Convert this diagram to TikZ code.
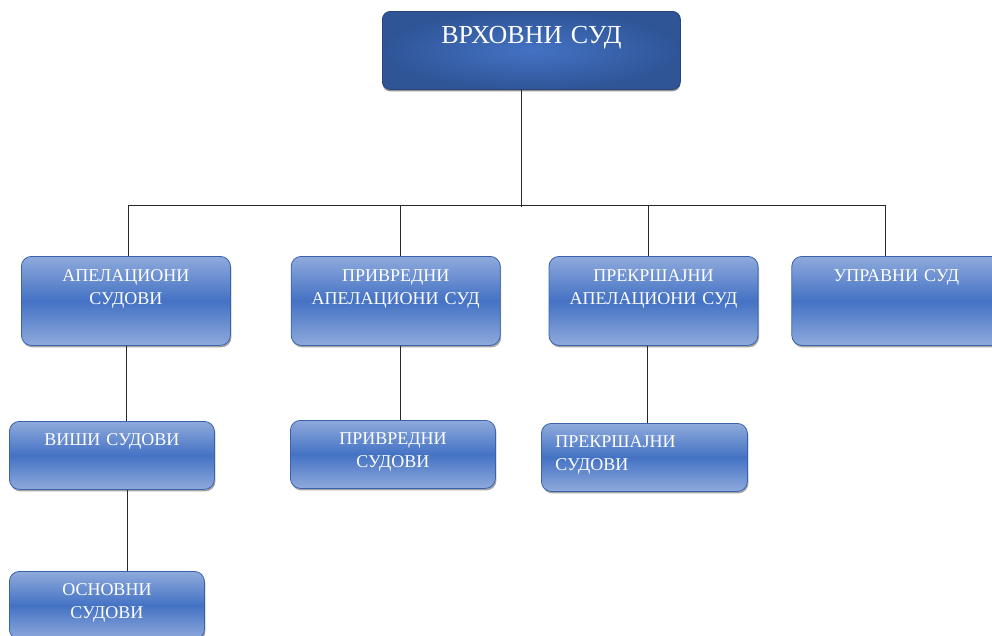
\documentclass[tikz,border=0pt]{standalone}
\usepackage{fontspec}
\setmainfont{Liberation Serif}
\usetikzlibrary{
    positioning,
    shadows,
    calc
}
\definecolor{darkblue}{RGB}{47,85,151}
\definecolor{midblue}{RGB}{68,114,196}
\definecolor{lightblue}{RGB}{143,170,220}
\definecolor{edgeblue}{RGB}{58,98,172}
\definecolor{linegray}{RGB}{40,40,40}
\tikzset{
    % Supreme court
    topcourt/.style={
        rectangle,
        draw=darkblue!80!black,
        line width=0.8pt,
        inner color=midblue,
        outer color=darkblue,
        rounded corners=8pt,
        text width=270pt,
        inner xsep=14pt,
        inner ysep=14pt,
        text height=18pt,
        text depth=32pt,
        align=center,
        text=white,
        font=\fontsize{26}{30}\selectfont,
        drop shadow={shadow xshift=0pt, shadow yshift=-2pt, fill=black!70, opacity=0.6}
    },
    % Courts
    court/.style={
        rectangle,
        draw=edgeblue,
        line width=0.8pt,
        top color=lightblue,
        bottom color=lightblue,
        middle color=midblue,
        rounded corners=10pt,
        inner xsep=6pt,
        inner ysep=12pt,
        text height=13pt,
        align=center,
        text=white,
        font=\fontsize{18}{23}\selectfont,
        drop shadow={shadow xshift=1pt, shadow yshift=-2pt, fill=black!70, opacity=0.5}
    },
    upper/.style={court, text width=197pt, text depth=52pt},
    lower/.style={court, text width=193pt, inner ysep=11pt, text depth=33pt},
    % Connectors
    link/.style={
        draw=linegray,
        line width=0.8pt
    }
}

\begin{document}
\begin{tikzpicture}[x=1pt, y=-1pt]
    \useasboundingbox (0,0) rectangle (992,635);

    % Top
    \node[topcourt, anchor=north west] (vrhovni) at (382,11) {ВРХОВНИ СУД};

    % Appellate level
    \node[upper, anchor=north west] (apelacioni) at (21,256) {АПЕЛАЦИОНИ\\СУДОВИ};
    \node[upper, right=60pt of apelacioni] (privapel) {ПРИВРЕДНИ\\АПЕЛАЦИОНИ СУД};
    \node[upper, right=48pt of privapel] (prekapel) {ПРЕКРШАЈНИ\\АПЕЛАЦИОНИ СУД};
    \node[upper, right=33pt of prekapel] (upravni) {УПРАВНИ СУД};

    % Lower level
    \node[lower, anchor=north west] (visi) at (9,421) {ВИШИ СУДОВИ};
    \node[lower, anchor=north west, text width=183pt] (osnovni) at (9,571) {ОСНОВНИ\\СУДОВИ};
    \node[lower, anchor=north west] (privredni) at (290,420) {ПРИВРЕДНИ\\СУДОВИ};
    \node[lower, anchor=north west, align=left, inner xsep=14pt, text width=178pt] (prekrsajni) at (541,423) {ПРЕКРШАЈНИ\\СУДОВИ};

    % Bus
    \coordinate (busleft) at (128,205);
    \coordinate (busright) at (885,205);

    % Links
    \draw[link] ([xshift=-10pt]vrhovni.south) -- ([xshift=-10pt,yshift=-2pt]vrhovni.south |- busright);
    \draw[link] (busleft) -- (busright);
    \draw[link] (busleft) -- (busleft |- apelacioni.north);
    \draw[link] ([xshift=5pt]privapel.north) -- ([xshift=5pt]privapel.north |- busleft);
    \draw[link] ([xshift=-5pt]prekapel.north) -- ([xshift=-5pt]prekapel.north |- busleft);
    \draw[link] (busright) -- (busright |- upravni.north);
    \draw[link] (apelacioni.south) -- (apelacioni.south |- visi.north);
    \draw[link] ([xshift=15pt]visi.south) -- ([xshift=15pt]visi.south |- osnovni.north);
    \draw[link] ([xshift=5pt]privapel.south) -- ([xshift=5pt]privapel.south |- privredni.north);
    \draw[link] ([xshift=-6pt]prekapel.south) -- ([xshift=-6pt]prekapel.south |- prekrsajni.north);

\end{tikzpicture}
\end{document}
